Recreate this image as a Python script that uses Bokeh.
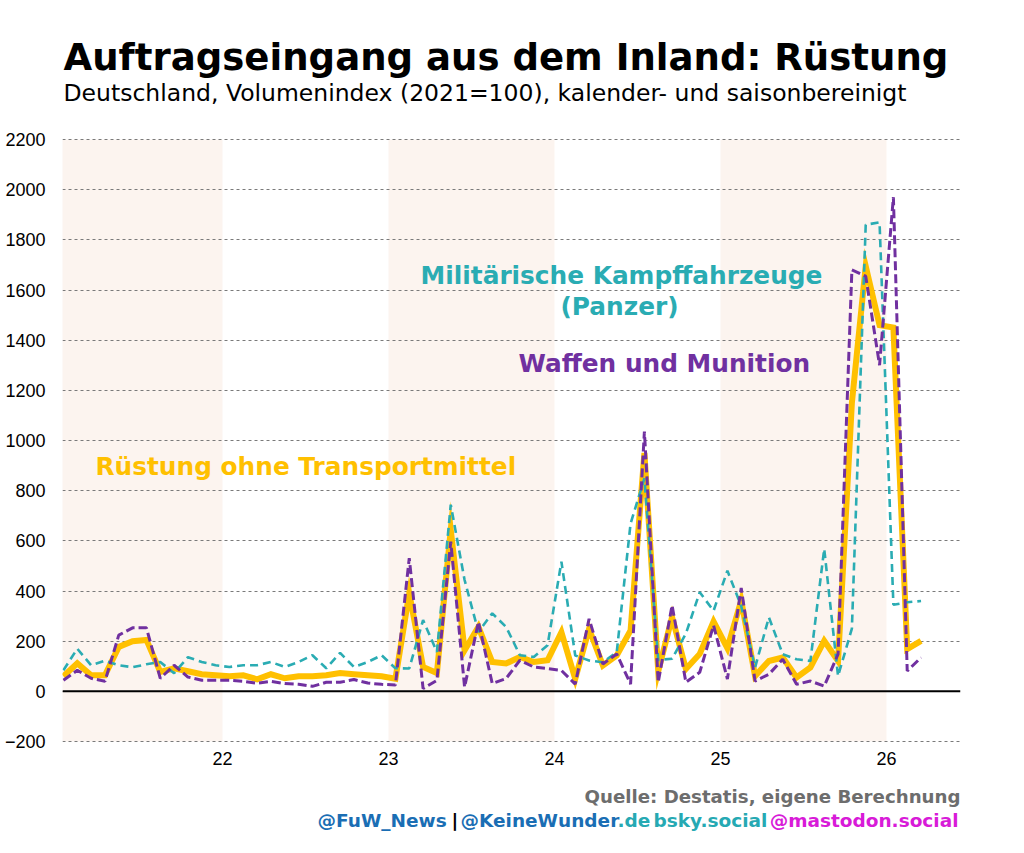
from bokeh.plotting import figure
from bokeh.models import Label, Span, FixedTicker, LinearAxis
from bokeh.embed import file_html
from bokeh.resources import INLINE

# ---------------- data (monthly, Jan 2021 - Mar 2026) ----------------
START_YEAR = 2021
N_MONTHS = 63

ruestung = [60, 112, 64, 64, 177, 200, 205, 77, 92, 80, 68, 64, 60,
            64, 48, 68, 52, 60, 60, 64, 73, 68, 64, 60, 50,
            391, 97, 73, 644, 164, 257, 117, 111, 137, 117, 124, 236,
            50, 249, 103, 143, 243, 950, 80, 296, 89, 149, 278, 172,
            362, 61, 121, 135, 55, 95, 201, 121, 1150, 1695, 1460, 1450, 168, 201]

waffen = [44, 84, 52, 40, 224, 253, 253, 52, 104, 57, 44, 44, 44,
          40, 32, 40, 31, 28, 20, 36, 36, 47, 33, 28, 25,
          531, 11, 44, 597, 17, 277, 31, 51, 124, 97, 91, 83,
          29, 289, 109, 149, 29, 1036, 36, 343, 36, 76, 263, 49,
          412, 41, 68, 128, 28, 41, 21, 148, 1680, 1655, 1300, 1970, 81, 135]

panzer = [84, 170, 104, 122, 104, 96, 108, 117, 72, 136, 117, 104, 97,
          104, 104, 117, 97, 117, 144, 92, 153, 97, 117, 144, 92,
          91, 284, 157, 744, 444, 237, 311, 257, 144, 137, 184, 517,
          143, 123, 116, 156, 669, 849, 125, 130, 230, 395, 321, 481,
          340, 95, 295, 148, 128, 121, 568, 61, 250, 1860, 1870, 345, 355, 360]

months = [START_YEAR + (k + 0.5) / 12 for k in range(N_MONTHS)]

year_ticks = [2022, 2023, 2024, 2025, 2026]
year_labels = ["22", "23", "24", "25", "26"]
y_ticks = list(range(-200, 2201, 200))
Y_MIN, Y_MAX = -200, 2200

band_start = [2021, 2023, 2025]
band_end = [2022, 2024, 2026]

# ---------------- colours ----------------
YELLOW = "#ffc000"
PURPLE = "#7030a0"
TEAL = "#2aacb3"
BAND = "#fcf4ef"

# ---------------- layout (page pixels) ----------------
W, H = 1000, 845
FL, FR = 62, 960          # frame left / right
FT, FB = 5, 840           # frame top / bottom (frame covers title + footer)
GT, GB = 139, 741         # pixel rows of 2200 and -200
X0, X1 = 2021.036, 2026.446
UPP = (Y_MAX - Y_MIN) / (GB - GT)          # data units per pixel
YR0 = Y_MIN - (FB - GB) * UPP
YR1 = Y_MAX + (GT - FT) * UPP


def X(px):
    return X0 + (px - FL) * (X1 - X0) / (FR - FL)


def Y(py):
    return Y_MAX - (py - GT) * UPP


p = figure(width=W, height=H, output_backend="svg", toolbar_location=None,
           x_range=(X0, X1), y_range=(YR0, YR1), x_axis_location=None,
           min_border_left=FL, min_border_right=W - FR,
           min_border_top=FT, min_border_bottom=H - FB)
p.outline_line_color = None
p.background_fill_color = "white"
p.border_fill_color = "white"

p.xgrid.visible = False
p.ygrid.grid_line_color = "#7a7a7a"
p.ygrid.grid_line_dash = "3 3"
p.ygrid.grid_line_width = 1

p.yaxis.ticker = FixedTicker(ticks=y_ticks)
p.yaxis.major_label_overrides = {-200: "\u2212200"}
p.yaxis.major_label_standoff = 17

xaxis = LinearAxis(fixed_location=Y_MIN, ticker=FixedTicker(ticks=year_ticks),
                   major_label_overrides={t: l for t, l in zip(year_ticks, year_labels)})
p.add_layout(xaxis, "below")

for ax in (xaxis, p.yaxis):
    ax.axis_line_color = None
    ax.major_tick_line_color = None
    ax.minor_tick_line_color = None
    ax.major_tick_out = 0
    ax.major_tick_in = 0
    ax.minor_tick_out = 0
    ax.minor_tick_in = 0
    ax.major_label_text_font = "Liberation Sans"
    ax.major_label_text_font_size = "18px"
    ax.major_label_text_color = "black"
xaxis.major_label_standoff = 10

# shaded year bands
p.quad(left=band_start, right=band_end, bottom=Y_MIN, top=Y_MAX,
       fill_color=BAND, line_color=None, level="image")

p.add_layout(Span(location=0, dimension="width", line_color="black",
                  line_width=2, level="underlay"))

p.line(months, ruestung, line_color=YELLOW, line_width=6, line_join="miter")
p.line(months, panzer, line_color=TEAL, line_width=2.6, line_dash="8 5")
p.line(months, waffen, line_color=PURPLE, line_width=3, line_dash="9 4")


def lab(x, y, text, size, color, bold=True, align="left", font="DejaVu Sans"):
    # y is the vertical centre of the capitals, in page pixels
    p.add_layout(Label(x=X(x), y=Y(y), text=text, text_font=font,
                       text_font_size=size, text_color=color,
                       text_font_style="bold" if bold else "normal",
                       text_align=align, text_baseline="middle"))


# title / subtitle
lab(63, 56.5, "Auftragseingang aus dem Inland: Rüstung", "37.1px", "black")
lab(63, 92, "Deutschland, Volumenindex (2021=100), kalender- und saisonbereinigt",
    "23.5px", "black", bold=False)

# series labels
lab(621, 275, "Militärische Kampffahrzeuge", "24.8px", TEAL, align="center")
lab(619, 306, "(Panzer)", "24.8px", TEAL, align="center")
lab(518, 362.5, "Waffen und Munition", "24.8px", PURPLE)
lab(95, 466, "Rüstung ohne Transportmittel", "24.8px", YELLOW)

# footer
lab(960, 795.5, "Quelle: Destatis, eigene Berechnung", "18.2px", "#6d6d6d", align="right")
lab(317, 820, "@FuW_News", "18.5px", "#1a6eb4")
lab(451, 820, "|", "18.5px", "black")
lab(460, 820, "@KeineWunder", "18.5px", "#1a6eb4")
lab(617, 820, ".de", "18.5px", "#26a9b3")
lab(653, 820, "bsky.social", "18.5px", "#26a9b3")
lab(958, 820, "@mastodon.social", "18.5px", "#d81bd8", align="right")

open("out.html", "w").write(file_html(p, INLINE))
